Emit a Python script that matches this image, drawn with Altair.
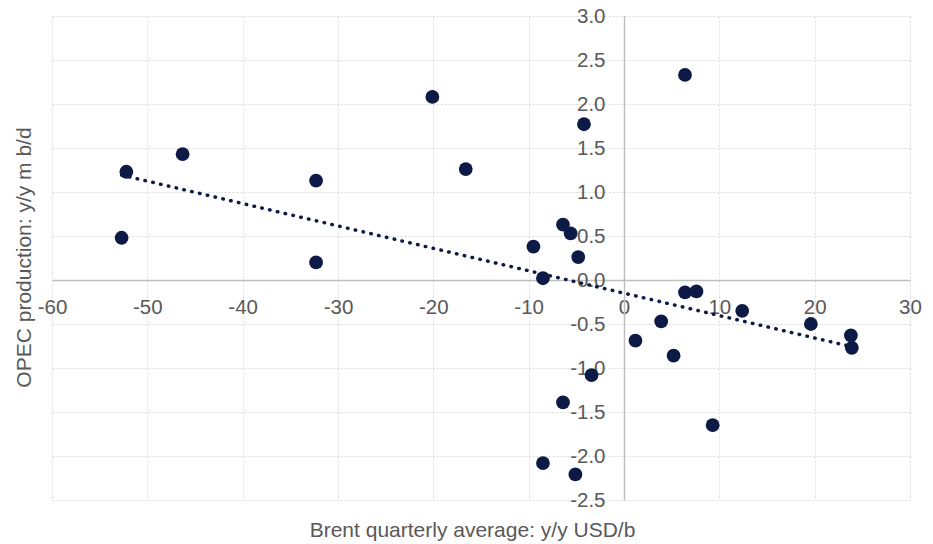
import altair as alt
import pandas as pd

# Brent quarterly average, y/y change (USD/b)
brent = [-52.2, -52.7, -46.3, -32.3, -32.3, -20.1, -16.6, -9.5, -8.5, -6.4,
         -5.6, -4.8, -4.2, 6.4, 6.4, 7.6, 12.4, 19.6, 23.8, 23.9,
         1.2, 3.9, 5.2, -3.4, -6.4, -8.5, -5.1, 9.3]
# OPEC production, y/y change (m b/d)
opec = [1.23, 0.48, 1.43, 1.13, 0.20, 2.08, 1.26, 0.38, 0.02, 0.63,
        0.53, 0.26, 1.77, 2.33, -0.14, -0.13, -0.35, -0.50, -0.63, -0.77,
        -0.69, -0.47, -0.86, -1.08, -1.39, -2.08, -2.21, -1.65]

x_domain = [-60, 30]
y_domain = [-2.5, 3.0]
x_ticks = [-60, -50, -40, -30, -20, -10, 0, 10, 20, 30]
y_ticks = [-2.5, -2.0, -1.5, -1.0, -0.5, 0.0, 0.5, 1.0, 1.5, 2.0, 2.5, 3.0]

df = pd.DataFrame({"brent": brent, "opec": opec})

W, H = 858, 484
TOP = 8
# axes cross at zero
x_off = -(0 - y_domain[0]) / (y_domain[1] - y_domain[0]) * H
y_off = -(0 - x_domain[0]) / (x_domain[1] - x_domain[0]) * W
x_axis_abs = 8 + TOP + H + x_off  # page y of the x axis line

LABEL = "#595959"
FONT = "Liberation Sans"
HYPHEN = "replace(datum.label, '\u2212', '-')"

x_axis = alt.Axis(
    values=x_ticks, offset=x_off, format="d", labelExpr=HYPHEN,
    title="Brent quarterly average: y/y USD/b",
    titleX=420, titleY=536.5 - x_axis_abs, titleAlign="center",
    titleBaseline="alphabetic", titleFontSize=21, titleFontWeight="normal",
    titleColor=LABEL, titleFont=FONT,
    labelFontSize=20.5, labelColor=LABEL, labelFont=FONT, labelPadding=17,
    labelOverlap=False, labelBound=False, labelFlush=False,
    ticks=False, domainColor="#bfbfbf", domainWidth=1.5,
    grid=True, gridColor="#d9d9d9", gridDash=[2, 2], gridWidth=1,
)
y_axis = alt.Axis(
    values=y_ticks, offset=y_off, format=".1f", labelExpr=HYPHEN,
    title="OPEC production: y/y m b/d",
    titleX=-594, titleY=241, titleAngle=270,
    titleAlign="center", titleBaseline="alphabetic", titleFontSize=21,
    titleFontWeight="normal", titleColor=LABEL, titleFont=FONT,
    labelFontSize=20.5, labelColor=LABEL, labelFont=FONT, labelPadding=19,
    labelOverlap=False, labelBound=False, labelFlush=False,
    ticks=False, domainColor="#bfbfbf", domainWidth=1.5,
    grid=True, gridColor="#d9d9d9", gridDash=[2, 2], gridWidth=1,
)

base = alt.Chart(df).encode(
    x=alt.X("brent:Q", scale=alt.Scale(domain=x_domain, nice=False, zero=False), axis=x_axis),
    y=alt.Y("opec:Q", scale=alt.Scale(domain=y_domain, nice=False, zero=False), axis=y_axis),
)

trend = base.transform_regression("brent", "opec").mark_line(
    color="#0e1a46", strokeWidth=3.5, strokeDash=[0.5, 7.5], strokeCap="round"
)
points = base.mark_circle(size=190, color="#0e1a46", opacity=1)

chart = alt.layer(trend, points).properties(
    width=W, height=H,
    autosize=alt.AutoSizeParams(type="none"),
    padding={"left": 44, "top": TOP, "right": 15, "bottom": 44},
).configure_view(stroke=None)

chart.save("out.html", embed_options={"renderer": "svg", "actions": False})
